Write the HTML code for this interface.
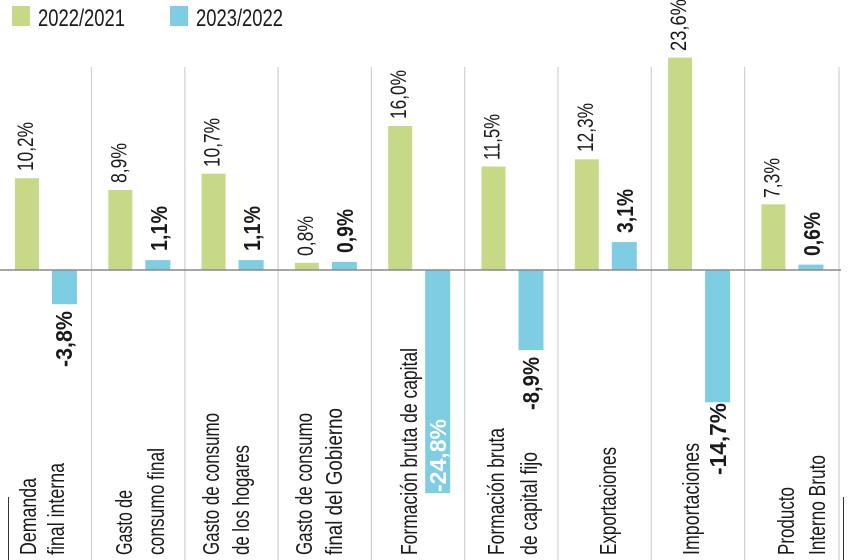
<!DOCTYPE html>
<html><head><meta charset="utf-8"><style>
html,body{margin:0;padding:0;background:#fff;}
svg{display:block;}
text{font-family:"Liberation Sans Narrow","Liberation Sans",sans-serif;fill:#1a1a1a;}
.v{font-size:22px;}
.b{font-size:23px;font-weight:bold;}
.c{font-size:23px;}
</style></head><body>
<svg width="850" height="560" viewBox="0 0 850 560" xmlns="http://www.w3.org/2000/svg">
<rect x="12" y="6" width="18" height="20" fill="#c6d986"/>
<text x="38" y="26" style="font-size:24px" textLength="87" lengthAdjust="spacingAndGlyphs">2022/2021</text>
<rect x="170" y="6" width="18" height="20" fill="#7fcde3"/>
<text x="196" y="26" style="font-size:24px" textLength="87" lengthAdjust="spacingAndGlyphs">2023/2022</text>
<g stroke="#d0d0d0" stroke-width="1.2">
<line x1="91.5" y1="67" x2="91.5" y2="560"/><line x1="184.8" y1="67" x2="184.8" y2="560"/>
<line x1="278.1" y1="67" x2="278.1" y2="560"/><line x1="371.4" y1="67" x2="371.4" y2="560"/>
<line x1="464.7" y1="67" x2="464.7" y2="560"/><line x1="558" y1="67" x2="558" y2="560"/>
<line x1="651.3" y1="67" x2="651.3" y2="560"/><line x1="744.6" y1="67" x2="744.6" y2="560"/>
<line x1="839" y1="67" x2="839" y2="560"/>
</g>
<line x1="8.5" y1="497" x2="8.5" y2="560" stroke="#333" stroke-width="1"/>
<line x1="843.5" y1="497" x2="843.5" y2="560" stroke="#333" stroke-width="1"/>
<g fill="#c6d986">
<rect x="15" y="178.2" width="24" height="91.8"/><rect x="108.3" y="189.9" width="24" height="80.1"/>
<rect x="201.6" y="173.7" width="24" height="96.3"/><rect x="294.9" y="262.8" width="24" height="7.2"/>
<rect x="388.2" y="126" width="24" height="144"/><rect x="481.5" y="166.5" width="24" height="103.5"/>
<rect x="574.8" y="159.3" width="24" height="110.7"/><rect x="668.1" y="57.6" width="24" height="212.4"/>
<rect x="761.4" y="204.3" width="24" height="65.7"/>
</g>
<g fill="#7fcde3">
<rect x="52" y="270" width="25" height="34.2"/><rect x="145.3" y="260.1" width="25" height="9.9"/>
<rect x="238.6" y="260.1" width="25" height="9.9"/><rect x="331.9" y="261.9" width="25" height="8.1"/>
<rect x="425.2" y="270" width="25" height="223.2"/><rect x="518.5" y="270" width="25" height="80.1"/>
<rect x="611.8" y="242.1" width="25" height="27.9"/><rect x="705.1" y="270" width="25" height="132.3"/>
<rect x="798.4" y="264.6" width="25" height="5.4"/>
</g>
<line x1="0" y1="270" x2="841" y2="270" stroke="#8a8a8a" stroke-width="1.5"/>
<!-- green labels -->
<text class="v" transform="translate(33,171) rotate(-90)" textLength="49" lengthAdjust="spacingAndGlyphs">10,2%</text>
<text class="v" transform="translate(126.3,183) rotate(-90)" textLength="40" lengthAdjust="spacingAndGlyphs">8,9%</text>
<text class="v" transform="translate(219.6,167) rotate(-90)" textLength="49" lengthAdjust="spacingAndGlyphs">10,7%</text>
<text class="v" transform="translate(312.9,256) rotate(-90)" textLength="40" lengthAdjust="spacingAndGlyphs">0,8%</text>
<text class="v" transform="translate(406.2,119) rotate(-90)" textLength="49" lengthAdjust="spacingAndGlyphs">16,0%</text>
<text class="v" transform="translate(499.5,160) rotate(-90)" textLength="46" lengthAdjust="spacingAndGlyphs">11,5%</text>
<text class="v" transform="translate(592.8,152) rotate(-90)" textLength="49" lengthAdjust="spacingAndGlyphs">12,3%</text>
<text class="v" transform="translate(686.1,51) rotate(-90)" textLength="52" lengthAdjust="spacingAndGlyphs">23,6%</text>
<text class="v" transform="translate(779.4,198) rotate(-90)" textLength="40" lengthAdjust="spacingAndGlyphs">7,3%</text>
<!-- blue labels -->
<text class="b" text-anchor="end" transform="translate(72,311) rotate(-90)" textLength="56" lengthAdjust="spacingAndGlyphs">-3,8%</text>
<text class="b" transform="translate(167,251) rotate(-90)" textLength="45" lengthAdjust="spacingAndGlyphs">1,1%</text>
<text class="b" transform="translate(260,251) rotate(-90)" textLength="45" lengthAdjust="spacingAndGlyphs">1,1%</text>
<text class="b" transform="translate(353,253) rotate(-90)" textLength="44" lengthAdjust="spacingAndGlyphs">0,9%</text>
<text class="b" style="fill:#fff" transform="translate(446,492) rotate(-90)" textLength="73" lengthAdjust="spacingAndGlyphs">-24,8%</text>
<text class="b" text-anchor="end" transform="translate(539,357) rotate(-90)" textLength="53" lengthAdjust="spacingAndGlyphs">-8,9%</text>
<text class="b" transform="translate(633,233) rotate(-90)" textLength="44" lengthAdjust="spacingAndGlyphs">3,1%</text>
<text class="b" text-anchor="end" transform="translate(726,403) rotate(-90)" textLength="72" lengthAdjust="spacingAndGlyphs">-14,7%</text>
<text class="b" transform="translate(820,256) rotate(-90)" textLength="44" lengthAdjust="spacingAndGlyphs">0,6%</text>
<!-- category labels -->
<text class="c" transform="translate(36,555) rotate(-90)" textLength="77" lengthAdjust="spacingAndGlyphs">Demanda</text>
<text class="c" transform="translate(64,555) rotate(-90)" textLength="92" lengthAdjust="spacingAndGlyphs">final interna</text>
<text class="c" transform="translate(132,555) rotate(-90)" textLength="65" lengthAdjust="spacingAndGlyphs">Gasto de</text>
<text class="c" transform="translate(164,555) rotate(-90)" textLength="107" lengthAdjust="spacingAndGlyphs">consumo final</text>
<text class="c" transform="translate(219,555) rotate(-90)" textLength="142" lengthAdjust="spacingAndGlyphs">Gasto de consumo</text>
<text class="c" transform="translate(249,555) rotate(-90)" textLength="110" lengthAdjust="spacingAndGlyphs">de los hogares</text>
<text class="c" transform="translate(312,555) rotate(-90)" textLength="142" lengthAdjust="spacingAndGlyphs">Gasto de consumo</text>
<text class="c" transform="translate(342,555) rotate(-90)" textLength="147" lengthAdjust="spacingAndGlyphs">final del Gobierno</text>
<text class="c" transform="translate(417,555) rotate(-90)" textLength="207" lengthAdjust="spacingAndGlyphs">Formación bruta de capital</text>
<text class="c" transform="translate(504,555) rotate(-90)" textLength="127" lengthAdjust="spacingAndGlyphs">Formación bruta</text>
<text class="c" transform="translate(537,555) rotate(-90)" textLength="103" lengthAdjust="spacingAndGlyphs">de capital fijo</text>
<text class="c" transform="translate(616,555) rotate(-90)" textLength="108" lengthAdjust="spacingAndGlyphs">Exportaciones</text>
<text class="c" transform="translate(699,555) rotate(-90)" textLength="112" lengthAdjust="spacingAndGlyphs">Importaciones</text>
<text class="c" transform="translate(794,555) rotate(-90)" textLength="68" lengthAdjust="spacingAndGlyphs">Producto</text>
<text class="c" transform="translate(825,555) rotate(-90)" textLength="100" lengthAdjust="spacingAndGlyphs">Interno Bruto</text>
</svg>
</body></html>
